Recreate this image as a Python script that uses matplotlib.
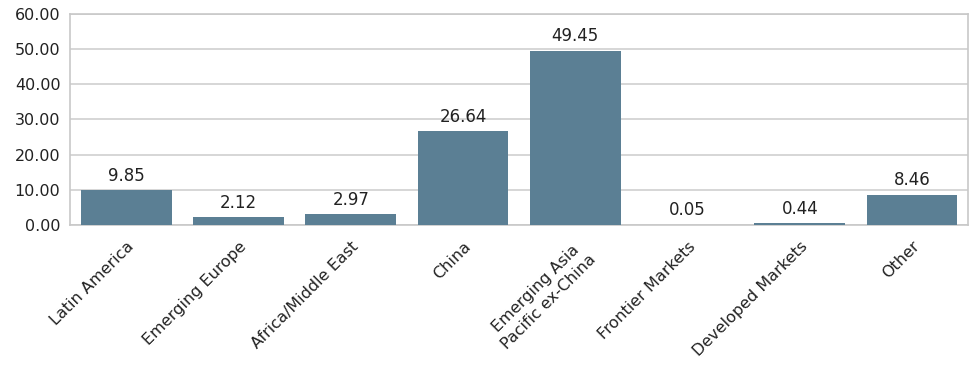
import matplotlib
matplotlib.use('Agg')
import matplotlib.pyplot as plt

# regional allocation (%)
categories = ['Latin America', 'Emerging Europe', 'Africa/Middle East', 'China',
              'Emerging Asia\nPacific ex-China', 'Frontier Markets',
              'Developed Markets', 'Other']
values = [9.85, 2.12, 2.97, 26.64, 49.45, 0.05, 0.44, 8.46]

plt.rcParams['font.family'] = ['DejaVu Sans']

fig = plt.figure(figsize=(9.74, 3.68), dpi=100)
ax = fig.add_axes([0.072, 0.389, 0.922, 0.573])

x = range(len(categories))
ax.bar(x, values, width=0.81, color='#5B7F94', zorder=3)
for xi, v in zip(x, values):
    ax.text(xi, v + 1.6, '%.2f' % v, ha='center', va='bottom', fontsize=12, color='#222222')

ax.set_xlim(-0.5, len(categories) - 0.5)
ax.set_ylim(0, 60)
ax.set_yticks(range(0, 61, 10))
ax.set_yticklabels(['%.2f' % t for t in range(0, 61, 10)], fontsize=11.5)
ax.yaxis.grid(True, color='#D0D0D0', linewidth=1.2, zorder=0)
ax.set_xticks(list(x))
ax.set_xticklabels(categories, rotation=45, ha='right', rotation_mode='anchor',
                   fontsize=11.5, linespacing=1.3, multialignment='center')
ax.tick_params(axis='y', length=0, pad=7, colors='#222222')
ax.tick_params(axis='x', length=0, pad=10, colors='#222222')
for s in ax.spines.values():
    s.set_color('#C8C8C8')
    s.set_linewidth(1.2)

fig.savefig('out.png', dpi=100)
